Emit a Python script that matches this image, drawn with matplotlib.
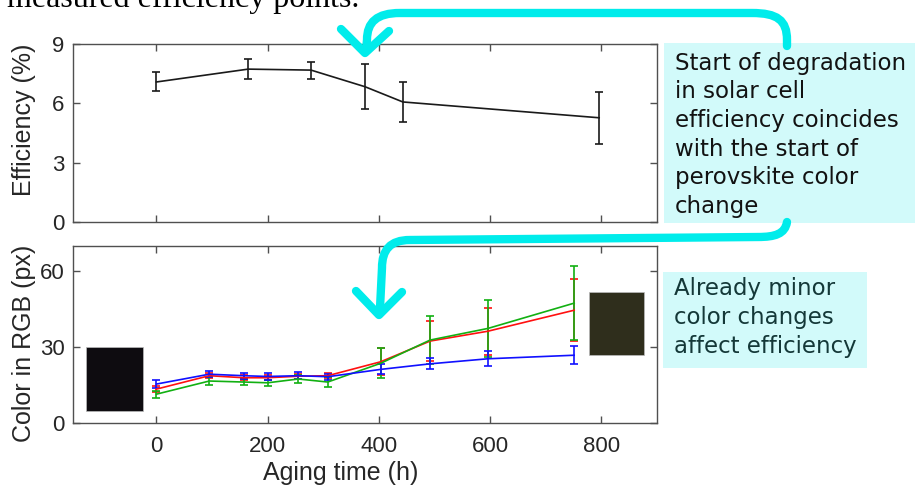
import matplotlib
matplotlib.use("Agg")
import matplotlib.pyplot as plt
from matplotlib.path import Path
from matplotlib.patches import PathPatch, Rectangle

# solar cell efficiency (%) vs aging time (h)
eff_time = [0, 165, 278, 375, 443, 796]
eff_val = [7.08, 7.73, 7.68, 6.84, 6.07, 5.27]
eff_err = [0.48, 0.50, 0.43, 1.13, 0.99, 1.32]

# perovskite colour in RGB (px) vs aging time (h)
rgb_time = [0, 95, 157, 200, 255, 308, 403, 492, 596, 751]
red_val = [13.4, 18.7, 17.9, 17.9, 18.5, 18.7, 24.2, 32.4, 36.3, 44.6]
red_err = [1.2, 1.0, 1.0, 1.0, 1.0, 1.0, 5.3, 7.8, 9.3, 12.2]
green_val = [11.4, 16.6, 16.2, 15.9, 17.4, 16.2, 23.6, 32.8, 37.4, 47.4]
green_err = [1.4, 1.5, 1.3, 1.3, 1.5, 2.0, 6.0, 9.4, 11.2, 14.6]
blue_val = [15.4, 19.3, 18.7, 18.4, 18.7, 18.3, 21.2, 23.4, 25.4, 26.8]
blue_err = [1.6, 1.2, 1.2, 1.2, 1.3, 1.2, 2.0, 2.2, 3.0, 3.6]

# colour swatches (start / end of aging)
swatch_x = [-126, 777]
swatch_w = [101, 100]
swatch_y = [4.7, 26.8]
swatch_h = [25.3, 25.0]
swatch_col = ["#0e0c10", "#2f2e1c"]

x_ticks = [0, 200, 400, 600, 800]
eff_ticks = [0, 3, 6, 9]
rgb_ticks = [0, 30, 60]

top_note = ["Start of degradation", "in solar cell", "efficiency coincides",
            "with the start of", "perovskite color", "change"]
bottom_note = ["Already minor", "color changes", "affect efficiency"]

W, H = 915, 486
cyan = "#00eceb"
box_col = "#d2fafa"
gray = "#262626"
spine_col = "#505050"


def px(x, y):
    return (x / W, 1 - y / H)


fig = plt.figure(figsize=(W / 100, H / 100), dpi=100)
ax1 = fig.add_axes([73 / W, 1 - 222 / H, 584 / W, 178 / H])
ax2 = fig.add_axes([73 / W, 1 - 423 / H, 584 / W, 177 / H])

for ax in (ax1, ax2):
    ax.set_xlim(-150, 900)
    ax.set_xticks(x_ticks)
    ax.tick_params(direction="in", top=True, right=True, length=5, width=1,
                   color=spine_col, labelcolor=gray, labelsize=16)
    ax.tick_params(axis="y", pad=6)
    ax.tick_params(axis="x", pad=9)
    for s in ax.spines.values():
        s.set_color(spine_col)
        s.set_linewidth(1.0)
    for lab in ax.get_xticklabels() + ax.get_yticklabels():
        lab.set_family("Liberation Sans")

ax1.errorbar(eff_time, eff_val, yerr=eff_err, color="#1a1a1a", lw=1.2,
             capsize=3, elinewidth=1.2, capthick=1.2)
ax1.set_ylim(0, 9)
ax1.set_yticks(eff_ticks)
ax1.set_xticklabels([])
ax1.set_ylabel("Efficiency (%)", family="Liberation Sans", size=18, color=gray)
ax1.yaxis.set_label_coords(-0.064, 0.575)

for vals, errs, col in [(red_val, red_err, "#ff1010"),
                        (green_val, green_err, "#12b012"),
                        (blue_val, blue_err, "#1010ff")]:
    ax2.errorbar(rgb_time, vals, yerr=errs, color=col, lw=1.2,
                 capsize=3, elinewidth=1.2, capthick=1.2)
for x, w, y, h, c in zip(swatch_x, swatch_w, swatch_y, swatch_h, swatch_col):
    ax2.add_patch(Rectangle((x, y), w, h, facecolor=c, edgecolor="#bbbbbb", lw=0.5))
ax2.set_ylim(0, 70)
ax2.set_yticks(rgb_ticks)
ax2.set_ylabel("Color in RGB (px)", family="Liberation Sans", size=18, color=gray)
ax2.yaxis.set_label_coords(-0.064, 0.45)
ax2.set_xlabel("Aging time (h)", family="Liberation Sans", size=18, color=gray)
ax2.xaxis.set_label_coords(0.459, -0.215)

# note boxes
fig.add_artist(Rectangle(px(664, 223), 251 / W, 180 / H, facecolor=box_col,
                         edgecolor="none", transform=fig.transFigure, zorder=1))
fig.add_artist(Rectangle(px(663, 368), 204 / W, 96 / H, facecolor=box_col,
                         edgecolor="none", transform=fig.transFigure, zorder=1))
for i, line in enumerate(top_note):
    fig.text(*px(675, 69.5 + 28.7 * i), line, family="DejaVu Sans", size=16.5,
             color="#121212", va="baseline", zorder=2)
for i, line in enumerate(bottom_note):
    fig.text(*px(674, 295 + 29 * i), line, family="DejaVu Sans", size=16.5,
             color="#143838", va="baseline", zorder=2)

# cut-off caption line above the figure (cropped like in the source)
fig.text(*px(7, 7), "measured efficiency points.", family="Liberation Serif",
         size=23, color="black", va="baseline")


def cyan_line(verts, codes):
    p = Path([px(*v) for v in verts], codes)
    fig.add_artist(PathPatch(p, fill=False, edgecolor=cyan, lw=6,
                             capstyle="round", joinstyle="round",
                             transform=fig.transFigure, zorder=10))


M, L, C = Path.MOVETO, Path.LINETO, Path.CURVE4
cyan_line([(787, 46), (787, 40), (787, 20), (777, 13), (752, 13), (400, 13),
           (377, 13), (367, 22), (367, 40), (366, 50)],
          [M, L, C, C, C, L, C, C, C, L])
cyan_line([(341, 29), (365, 53), (389, 31)], [M, L, L])
cyan_line([(787, 222), (785, 234), (775, 237), (758, 237), (410, 240),
           (390, 240), (382, 250), (382, 268), (380, 308)],
          [M, C, C, C, L, C, C, C, L])
cyan_line([(356, 291), (379, 315), (402, 292)], [M, L, L])

fig.savefig("out.png", dpi=100)
